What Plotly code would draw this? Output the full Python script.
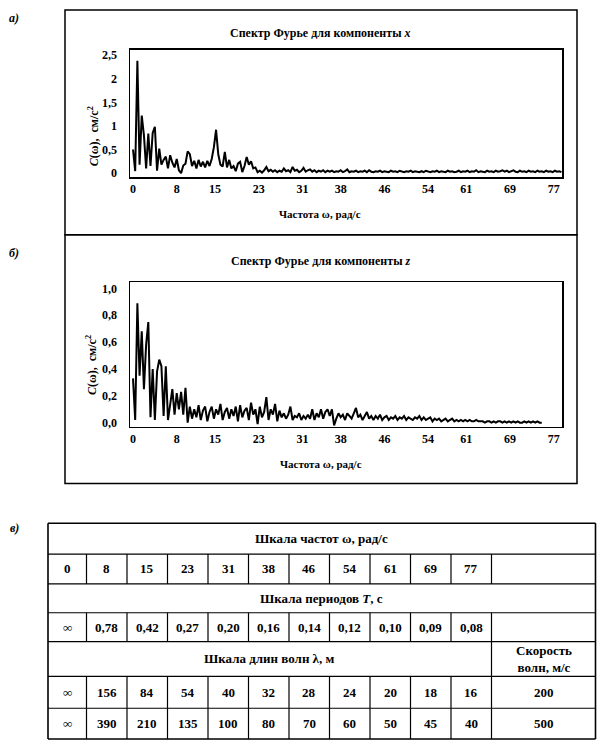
import numpy as np
import plotly.graph_objects as go

W, H = 605, 754

# ---------------- data ----------------
d_omega = 0.4  # spectral step, rad/s

# Fourier spectrum, component x  (C(ω), cm/s^2), ω = 0, 0.4, 0.8, ...
cx_values = [
    0.50, 0.04, 2.38, 0.18, 1.22, 0.80, 0.10, 0.84, 0.15, 0.85,
    0.98, 0.05, 0.52, 0.18, 0.28, 0.35, 0.10, 0.38, 0.22, 0.12,
    0.30, 0.06, 0.00, 0.16, 0.20, 0.46, 0.40, 0.15, 0.26, 0.10,
    0.28, 0.14, 0.24, 0.12, 0.26, 0.15, 0.30, 0.55, 0.92, 0.40,
    0.18, 0.14, 0.45, 0.12, 0.28, 0.10, 0.15, 0.04, 0.20, 0.24,
    0.02, 0.15, 0.34, 0.18, 0.25, 0.10, 0.12, 0.02, 0.05, 0.01,
    0.06, 0.13, 0.04, 0.07, 0.03, 0.06, 0.02, 0.05, 0.03, 0.10,
    0.04, 0.06, 0.02, 0.13, 0.05, 0.07, 0.02, 0.05, 0.11, 0.03,
    0.06, 0.08, 0.03, 0.06, 0.02, 0.05, 0.03, 0.06, 0.02, 0.05,
    0.03, 0.05, 0.02, 0.04, 0.03, 0.06, 0.02, 0.04, 0.08, 0.02,
    0.04, 0.03, 0.05, 0.02, 0.04, 0.03, 0.05, 0.02, 0.06, 0.03,
    0.02, 0.04, 0.03, 0.05, 0.02, 0.04, 0.03, 0.02, 0.05, 0.03,
    0.04, 0.02, 0.05, 0.03, 0.02, 0.04, 0.03, 0.05, 0.02, 0.04,
    0.03, 0.02, 0.04, 0.02, 0.05, 0.03, 0.02, 0.04, 0.03, 0.05,
    0.02, 0.04, 0.03, 0.02, 0.05, 0.03, 0.04, 0.02, 0.03, 0.05,
    0.02, 0.04, 0.03, 0.05, 0.02, 0.04, 0.03, 0.06, 0.02, 0.04,
    0.03, 0.02, 0.05, 0.03, 0.04, 0.02, 0.05, 0.03, 0.04, 0.06,
    0.03, 0.05, 0.02, 0.04, 0.06, 0.03, 0.02, 0.05, 0.03, 0.04,
    0.02, 0.05, 0.03, 0.04, 0.02, 0.05, 0.03, 0.04, 0.02, 0.05,
    0.03, 0.04, 0.02, 0.05, 0.03, 0.04, 0.02,
]

# Fourier spectrum, component z
cz_values = [
    0.33, 0.02, 0.89, 0.35, 0.68, 0.25, 0.58, 0.75, 0.04, 0.40,
    0.02, 0.38, 0.47, 0.42, 0.05, 0.42, 0.02, 0.12, 0.25, 0.06,
    0.22, 0.10, 0.23, 0.06, 0.26, 0.00, 0.12, 0.03, 0.10, 0.04,
    0.13, 0.02, 0.09, 0.12, 0.01, 0.08, 0.12, 0.03, 0.10, 0.06,
    0.14, 0.02, 0.08, 0.11, 0.03, 0.10, 0.05, 0.12, 0.01, 0.13,
    0.04, 0.09, 0.11, 0.02, 0.15, 0.06, 0.10, -0.01, 0.12, 0.04,
    0.08, 0.19, 0.02, 0.10, 0.06, 0.14, 0.01, 0.09, 0.04, 0.07,
    0.03, 0.06, 0.12, 0.02, 0.05, 0.04, 0.07, 0.02, 0.05, 0.03,
    0.06, 0.03, 0.10, 0.02, 0.07, 0.04, 0.10, 0.03, 0.08, 0.10,
    0.05, 0.10, -0.02, 0.03, 0.07, 0.04, 0.06, 0.02, 0.07, 0.05,
    0.03, 0.07, 0.11, 0.04, 0.06, 0.02, 0.05, 0.08, 0.03, 0.05,
    0.02, 0.05, 0.03, 0.06, 0.02, 0.04, 0.05, 0.02, 0.04, 0.03,
    0.05, 0.02, 0.04, 0.03, 0.05, 0.02, 0.04, 0.03, 0.02, 0.04,
    0.03, 0.05, 0.02, 0.04, 0.02, 0.03, 0.04, 0.01, 0.03, 0.02,
    0.03, 0.01, 0.02, 0.03, 0.01, 0.02, 0.03, 0.01, 0.02, 0.01,
    0.02, 0.01, 0.02, 0.01, 0.02, 0.01, 0.01, 0.02, 0.01, 0.01,
    0.01, 0.00, 0.01, 0.01, 0.00, 0.01, 0.00, 0.01, 0.01, 0.00,
    0.01, 0.00, 0.01, 0.00, 0.01, 0.00, 0.01, 0.00, 0.00, 0.01,
    0.00, 0.01, 0.00, 0.01, 0.00, 0.01, 0.00, 0.00,
]

freq_ticks = [0, 8, 15, 23, 31, 38, 46, 54, 61, 69, 77]
freq_labels = ["0", "8", "15", "23", "31", "38", "46", "54", "61", "69", "77"]

cx_yticks = [0, 0.5, 1, 1.5, 2, 2.5]
cx_ylabels = ["0", "0,5", "1", "1,5", "2", "2,5"]
cz_yticks = [0, 0.2, 0.4, 0.6, 0.8, 1.0]
cz_ylabels = ["0,0", "0,2", "0,4", "0,6", "0,8", "1,0"]

period_labels = ["∞", "0,78", "0,42", "0,27", "0,20", "0,16", "0,14",
                 "0,12", "0,10", "0,09", "0,08"]
wavelen_v200 = ["∞", "156", "84", "54", "40", "32", "28", "24", "20", "18", "16"]
wavelen_v500 = ["∞", "390", "210", "135", "100", "80", "70", "60", "50", "45", "40"]
wave_speeds = ["200", "500"]

title_x = "Спектр Фурье для компоненты <i>x</i>"
title_z = "Спектр Фурье для компоненты <i>z</i>"
xaxis_title = "Частота ω, рад/с"
yaxis_title = "<i>C</i>(ω),  см/с<sup>2</sup>"

# ---------------- helpers ----------------
def X(p):
    return p / W

def Y(p):
    return 1 - p / H

FONT = "Liberation Serif"

omega_x = np.arange(len(cx_values)) * d_omega
omega_z = np.arange(len(cz_values)) * d_omega

fig = go.Figure()
fig.add_trace(go.Scatter(x=omega_x, y=cx_values, mode="lines",
                         line=dict(color="black", width=2.0),
                         xaxis="x", yaxis="y", showlegend=False, hoverinfo="skip"))
fig.add_trace(go.Scatter(x=omega_z, y=cz_values, mode="lines",
                         line=dict(color="black", width=2.0),
                         xaxis="x2", yaxis="y2", showlegend=False, hoverinfo="skip"))

plot_l, plot_r = 130, 562
xrange_ = [-0.55, 78.5]
tickfont = dict(family=FONT, size=12, color="black", weight="bold")

axis_common = dict(showline=True, mirror=True, linecolor="black", linewidth=1.5,
                   showgrid=False, zeroline=False, ticks="", tickfont=tickfont,
                   fixedrange=True)

fig.update_layout(
    width=W, height=H,
    margin=dict(l=0, r=0, t=0, b=0),
    paper_bgcolor="white", plot_bgcolor="white",
    font=dict(family=FONT, color="black"),
    xaxis=dict(domain=[X(plot_l), X(plot_r)], range=xrange_, anchor="y",
               tickvals=freq_ticks, ticktext=freq_labels, **axis_common),
    yaxis=dict(domain=[Y(177), Y(49)], range=[-0.084, 2.616], anchor="x",
               tickvals=cx_yticks, ticktext=cx_ylabels, ticklabelstandoff=9,
               **axis_common),
    xaxis2=dict(domain=[X(plot_l), X(plot_r)], range=xrange_, anchor="y2",
                tickvals=freq_ticks, ticktext=freq_labels, **axis_common),
    yaxis2=dict(domain=[Y(428), Y(283)], range=[-0.03, 1.044], anchor="x2",
                tickvals=cz_yticks, ticktext=cz_ylabels, ticklabelstandoff=9,
                **axis_common),
)

shapes = []
annotations = []

def rect(x0, y0, x1, y1, w=1.5):
    shapes.append(dict(type="rect", xref="paper", yref="paper",
                       x0=X(x0), x1=X(x1), y0=Y(y1), y1=Y(y0),
                       line=dict(color="black", width=w)))

def line(x0, y0, x1, y1, w=1.2):
    shapes.append(dict(type="line", xref="paper", yref="paper",
                       x0=X(x0), x1=X(x1), y0=Y(y0), y1=Y(y1),
                       line=dict(color="black", width=w)))

def text(t, x, y, size=12, bold=True, angle=0, xanchor="center"):
    annotations.append(dict(text=t, x=X(x), y=Y(y), xref="paper", yref="paper",
                            showarrow=False, textangle=angle, xanchor=xanchor,
                            yanchor="middle",
                            font=dict(family=FONT, size=size, color="black",
                                      weight="bold" if bold else "normal")))

# panel frames
rect(65, 9, 577, 235)
rect(65, 235, 577, 485)

# panel labels
text("<i>а)</i>", 14, 17, size=12)
text("<i>б)</i>", 14, 253, size=12)
text("<i>в)</i>", 14, 530, size=12)

# chart texts
text(title_x, 320, 32, size=12)
text(xaxis_title, 320, 214, size=11)
text(yaxis_title, 93, 136, size=12, angle=-90)
text(title_z, 321, 261, size=12)
text(xaxis_title, 321, 465, size=11)
text(yaxis_title, 91, 366, size=12, angle=-90)

# ---------------- table ----------------
col_widths = [38.5] + [40.5] * 10 + [104]
tab_left = 48
col_edges = [tab_left]
for w in col_widths:
    col_edges.append(col_edges[-1] + w)
row_edges = [525, 556, 586, 615, 644, 679, 711, 742]
tab_right = col_edges[-1]

# horizontal lines
for i, y in enumerate(row_edges):
    outer = i in (0, len(row_edges) - 1)
    line(tab_left, y, tab_right, y, w=1.6 if outer else 1.2)
# outer verticals
line(tab_left, row_edges[0], tab_left, row_edges[-1], w=1.6)
line(tab_right, row_edges[0], tab_right, row_edges[-1], w=1.6)
# inner verticals for value rows
for r in (1, 3, 5, 6):
    for xe in col_edges[1:-1]:
        line(xe, row_edges[r], xe, row_edges[r + 1])
# separator for the speed column in the wavelength header row
line(col_edges[-2], row_edges[4], col_edges[-2], row_edges[5])

def row_mid(r):
    return (row_edges[r] + row_edges[r + 1]) / 2

def col_mid(c):
    return (col_edges[c] + col_edges[c + 1]) / 2

TS = 13
text("Шкала частот ω, рад/с", (tab_left + tab_right) / 2, row_mid(0), size=TS)
for c, lab in enumerate(freq_labels):
    text(lab, col_mid(c), row_mid(1), size=TS)
text("Шкала периодов <i>T</i>, с", (tab_left + tab_right) / 2, row_mid(2), size=TS)
for c, lab in enumerate(period_labels):
    text(lab, col_mid(c), row_mid(3), size=TS)
text("Шкала длин волн λ, м", (col_edges[0] + col_edges[-2]) / 2, row_mid(4), size=TS)
text("Скорость<br>волн, м/с", col_mid(11), row_mid(4), size=TS)
for c, lab in enumerate(wavelen_v200):
    text(lab, col_mid(c), row_mid(5), size=TS)
text(wave_speeds[0], col_mid(11), row_mid(5), size=TS)
for c, lab in enumerate(wavelen_v500):
    text(lab, col_mid(c), row_mid(6), size=TS)
text(wave_speeds[1], col_mid(11), row_mid(6), size=TS)

fig.update_layout(shapes=shapes, annotations=annotations)

fig.write_html(
    "out.html",
    config={"displayModeBar": False, "staticPlot": True},
    post_script=(
        "document.body.style.margin='0';document.body.style.padding='0';"
        "document.body.style.overflow='hidden';"
        "document.querySelectorAll('svg text').forEach(function(t){"
        "if(!t.textContent || !t.textContent.trim()){t.remove();}});"
    ),
)
